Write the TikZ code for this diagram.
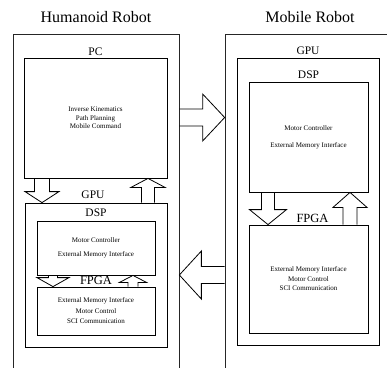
\documentclass[tikz,border=0pt]{standalone}
\usepackage{fontspec}
\setmainfont{Liberation Serif}
\usetikzlibrary{calc,positioning}

\tikzset{
  outerbox/.style={draw,black!85,line width=0.7pt,inner sep=0pt},
  unitbox/.style={draw,line width=0.8pt,inner sep=0pt,align=center},
  jobs/.style={font=\fontsize{7}{#1}\selectfont},
  jobs/.default=9pt,
  tag/.style={font=\fontsize{11.5}{13}\selectfont,inner sep=0pt},
  robotname/.style={font=\fontsize{16}{18}\selectfont,inner sep=0pt},
  blk/.style={draw,line width=0.8pt,line join=miter}
}

% hollow block arrow: name, from, to, stem half width, head half width, head length
\newcommand{\blockarrow}[6]{%
  \coordinate (#1-a) at (#2);
  \coordinate (#1-b) at (#3);
  \coordinate (#1-h) at ($(#1-b)!#6!(#1-a)$);
  \draw[blk] ($(#1-a)!#4!90:(#1-b)$) -- ($(#1-h)!#4!90:(#1-b)$)
    -- ($(#1-h)!#5!90:(#1-b)$) -- (#1-b) -- ($(#1-h)!#5!-90:(#1-b)$)
    -- ($(#1-h)!#4!-90:(#1-b)$) -- ($(#1-a)!#4!-90:(#1-b)$);
}

\begin{document}
\begin{tikzpicture}[x=1pt,y=-1pt]
\path[use as bounding box,clip] (0,0) rectangle (387,367);

% humanoid robot
\node[outerbox,minimum width=166pt,minimum height=366pt] (hum) at (96,217) {};
\node[robotname] (humtitle) at (96,17) {Humanoid Robot};
\node[unitbox,jobs=8.5pt,minimum width=143pt,minimum height=120pt] (pc) at (95.5,118)
  {Inverse Kinematics\\Path Planning\\Mobile Command};
\node[tag,above=2pt of pc] (pctag) {PC};
\node[unitbox,minimum width=142pt,minimum height=144pt] (hgpu) at (96,275) {};
\node[tag,above=4pt of hgpu,xshift=-3pt] (hgputag) {GPU};
\node[unitbox,jobs=14pt,minimum width=118pt,minimum height=54pt] (hdsp) at (96,248)
  {Motor Controller\\External Memory Interface};
\node[tag,above=4pt of hdsp] (hdsptag) {DSP};
\node[unitbox,jobs=10.5pt,minimum width=118pt,minimum height=48pt] (hfpga) at (96,311)
  {External Memory Interface\\Motor Control\\SCI Communication};
\node[tag,font=\fontsize{12.5}{14}\selectfont,above=1.5pt of hfpga] (hfpgatag) {FPGA};

% mobile robot
\node[outerbox,minimum width=195pt,minimum height=366pt] (mob) at (322.5,217) {};
\node[robotname] (mobtitle) at (310,17) {Mobile Robot};
\node[unitbox,minimum width=142pt,minimum height=287pt] (mgpu) at (308,201.5) {};
\node[tag,above=3pt of mgpu] (mgputag) {GPU};
\node[unitbox,jobs=17pt,minimum width=119pt,minimum height=110pt] (mdsp) at (308.5,137)
  {Motor Controller\\External Memory Interface};
\node[tag,above=3pt of mdsp] (mdsptag) {DSP};
\node[unitbox,jobs=9.5pt,minimum width=119pt,minimum height=108pt] (mfpga) at (308.5,279)
  {External Memory Interface\\Motor Control\\SCI Communication};
\node[tag,font=\fontsize{12.5}{14}\selectfont,above=1.5pt of mfpga,xshift=4pt] (mfpgatag) {FPGA};

% data paths
\blockarrow{pcdown}{42,0 |- pc.south}{42,0 |- hgpu.north}{7.5pt}{17pt}{11pt}
\blockarrow{pcup}{148,0 |- hgpu.north}{148,0 |- pc.south}{6.5pt}{17pt}{9pt}
\blockarrow{hdown}{53,0 |- hdsp.south}{53,0 |- hfpga.north}{4.5pt}{16pt}{9pt}
\blockarrow{hup}{133,0 |- hfpga.north}{133,0 |- hdsp.south}{5pt}{13.5pt}{7pt}
\blockarrow{mdown}{268,0 |- mdsp.south}{268,0 |- mfpga.north}{6.5pt}{18.5pt}{15pt}
\blockarrow{mup}{350,0 |- mfpga.north}{350,0 |- mdsp.south}{7pt}{17pt}{15pt}
\blockarrow{tomob}{hum.east |- 0,117.5}{mob.west |- 0,117.5}{8.5pt}{23.5pt}{22pt}
\blockarrow{tohum}{mob.west |- 0,275}{hum.east |- 0,275}{8.5pt}{24pt}{22pt}
\end{tikzpicture}
\end{document}
